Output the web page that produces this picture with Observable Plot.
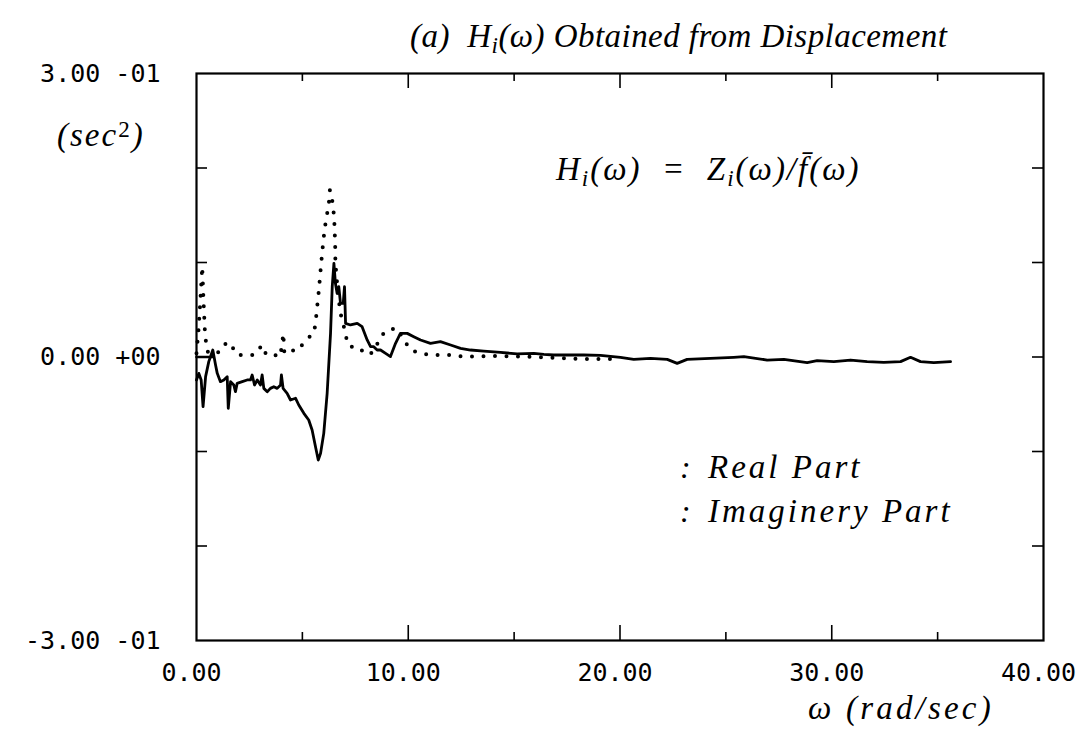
<!DOCTYPE html>
<html>
<head>
<meta charset="utf-8">
<script src="https://cdn.jsdelivr.net/npm/d3@7"></script>
<script src="https://cdn.jsdelivr.net/npm/@observablehq/plot@0.6"></script>
<style>
  html, body { margin: 0; padding: 0; background: #fff; }
  #chart { position: relative; width: 1087px; height: 744px; }
</style>
</head>
<body>
<div id="chart"></div>
<script>
// ---- Data ----
const realX = [0, 0.11, 0.22, 0.31, 0.43, 0.58, 0.77, 0.90, 0.98, 1.13, 1.29, 1.45, 1.50, 1.61, 1.76, 1.84, 1.92, 2.16, 2.39, 2.55, 2.63, 2.74, 2.87, 3.02, 3.10, 3.18, 3.34, 3.49, 3.65, 3.81, 3.97, 4.01, 4.09, 4.28, 4.44, 4.68, 4.83, 5.07, 5.30, 5.46, 5.62, 5.75, 5.86, 6.01, 6.17, 6.33, 6.41, 6.49, 6.56, 6.64, 6.72, 6.80, 6.93, 6.99, 7.04, 7.27, 7.59, 7.82, 8.06, 8.22, 8.37, 8.53, 8.69, 8.93, 9.16, 9.40, 9.63, 9.95, 10.26, 10.58, 11.05, 11.52, 12.00, 12.47, 12.94, 13.57, 14.36, 15.14, 15.93, 16.40, 16.87, 17.51, 18.29, 19.08, 20.02, 20.65, 21.44, 22.23, 22.70, 23.17, 24.27, 25.37, 25.85, 26.95, 27.74, 28.84, 29.31, 30.10, 30.89, 31.67, 32.46, 33.25, 33.72, 34.19, 34.82, 35.61];
const realY = [-0.0243, -0.0173, -0.0243, -0.0526, -0.0208, -0.0049, 0.0074, -0.0085, -0.0173, -0.0261, -0.0243, -0.0208, -0.0543, -0.0261, -0.0296, -0.0367, -0.0279, -0.0261, -0.0243, -0.0243, -0.0190, -0.0296, -0.0243, -0.0296, -0.0190, -0.0332, -0.0367, -0.0332, -0.0314, -0.0332, -0.0296, -0.0190, -0.0332, -0.0384, -0.0455, -0.0437, -0.0508, -0.0596, -0.0667, -0.0772, -0.0949, -0.1090, -0.1019, -0.0808, -0.0384, 0.0250, 0.0744, 0.0991, 0.0780, 0.0674, 0.0744, 0.0568, 0.0568, 0.0744, 0.0356, 0.0339, 0.0356, 0.0321, 0.0180, 0.0109, 0.0109, 0.0074, 0.0074, 0.0039, 0.0004, 0.0145, 0.0250, 0.0250, 0.0215, 0.0180, 0.0145, 0.0162, 0.0127, 0.0092, 0.0074, 0.0063, 0.0050, 0.0032, 0.0039, 0.0028, 0.0021, 0.0021, 0.0021, 0.0018, -0.0003, -0.0025, -0.0014, -0.0025, -0.0067, -0.0025, -0.0014, -0.0003, 0.0004, -0.0032, -0.0025, -0.0060, -0.0039, -0.0049, -0.0032, -0.0049, -0.0056, -0.0049, -0.0003, -0.0049, -0.0060, -0.0049];

// short solid lead segment along zero at the start
const leadX = [0, 0.77];
const leadY = [0, 0];

const imagX = [0.0, 0.10, 0.17, 0.22, 0.27, 0.33, 0.40, 0.50, 0.75, 1.00, 1.20, 1.45, 1.65, 1.80, 2.10, 2.40, 2.70, 3.10, 3.30, 3.70, 3.95, 4.05, 4.10, 4.15, 4.40, 4.80, 5.15, 5.54, 5.62, 5.70, 5.78, 5.86, 5.93, 6.01, 6.09, 6.17, 6.25, 6.30, 6.41, 6.49, 6.52, 6.55, 6.56, 6.64, 6.72, 6.80, 6.96, 7.04, 7.12, 7.27, 7.59, 8.06, 8.37, 8.69, 9.00, 9.48, 9.79, 10.11, 10.58, 11.05, 11.52, 12.00, 12.62, 13.10, 14.0, 15.0, 16.0, 17.0, 18.0, 20.0];
const imagY = [0.004, 0.030, 0.055, 0.075, 0.0956, 0.060, 0.025, 0.006, 0.003, 0.004, 0.012, 0.0145, 0.0145, 0.004, 0.002, 0.002, 0.002, 0.0125, 0.002, 0.002, 0.0004, 0.015, 0.025, 0.004, 0.007, 0.007, 0.018, 0.025, 0.0356, 0.0533, 0.0709, 0.092, 0.1094, 0.127, 0.1411, 0.1517, 0.1623, 0.1767, 0.1658, 0.1503, 0.1379, 0.1168, 0.0991, 0.078, 0.0603, 0.0462, 0.0321, 0.025, 0.0145, 0.0109, 0.0109, 0.0021, 0.0056, 0.0215, 0.0286, 0.0303, 0.018, 0.0074, 0.0039, 0.0021, 0.0021, 0.0021, 0.0004, 0.0004, 0.001, 0.0005, 0.0, -0.001, -0.002, -0.002];

const xTickVals = [0, 10, 20, 30, 40];
const xTickLabels = ["0.00", "10.00", "20.00", "30.00", "40.00"];
const xMajor = [10, 20, 30];
const xMinor = [5, 15, 25, 35];
const yTickVals = [-0.3, 0, 0.3];
const yTickLabels = ["-3.00 -01", "0.00 +00", "3.00 -01"];
const yInner = [-0.2, -0.1, 0, 0.1, 0.2];

// ---- Layout ----
const W = 1087, H = 744;
const mL = 196, mR = 44, mT = 73, mB = 104;
const fw = W - mL - mR, fh = H - mT - mB;
const mono = "DejaVu Sans Mono";

const plot = Plot.plot({
  width: W, height: H,
  marginLeft: mL, marginRight: mR, marginTop: mT, marginBottom: mB,
  x: {domain: [0, 40], axis: null},
  y: {domain: [-0.3, 0.3], axis: null},
  style: {background: "#fff", color: "#000"},
  marks: [
    // inward ticks
    Plot.ruleX(xMajor, {x: d => d, insetTop: fh - 15, stroke: "#000", strokeWidth: 1.6}),
    Plot.ruleX(xMinor, {x: d => d, insetTop: fh - 8, stroke: "#000", strokeWidth: 1.6}),
    Plot.ruleX(xMajor, {x: d => d, insetBottom: fh - 15, stroke: "#000", strokeWidth: 1.6}),
    Plot.ruleX(xMinor, {x: d => d, insetBottom: fh - 8, stroke: "#000", strokeWidth: 1.6}),
    Plot.ruleY(yInner, {y: d => d, insetRight: fw - 11, stroke: "#000", strokeWidth: 1.6}),
    Plot.ruleY(yInner, {y: d => d, insetLeft: fw - 11, stroke: "#000", strokeWidth: 1.6}),
    Plot.frame({stroke: "#000", strokeWidth: 2.2}),
    // curves
    Plot.line(imagX, {x: imagX, y: imagY, stroke: "#000", strokeWidth: 4, strokeDasharray: "0 11.5", strokeLinecap: "round"}),
    Plot.line(leadX, {x: leadX, y: leadY, stroke: "#000", strokeWidth: 2.6}),
    Plot.line(realX, {x: realX, y: realY, stroke: "#000", strokeWidth: 2.8, strokeLinejoin: "round"}),
    // tick labels
    Plot.text(xTickVals, {x: xTickVals, text: xTickLabels, frameAnchor: "bottom", dy: 32, dx: -5, lineAnchor: "middle", fontFamily: mono, fontSize: 25, fill: "#000"}),
    Plot.text(yTickVals, {y: yTickVals, text: yTickLabels, frameAnchor: "left", dx: -36, textAnchor: "end", lineAnchor: "middle", fontFamily: mono, fontSize: 25, fill: "#000"})
  ]
});
document.getElementById("chart").appendChild(plot);

// ---- Annotations (real text, italic serif with subscripts) ----
const svg = d3.select(plot);
const serif = "Liberation Serif";
function addText(x, y, parts, size, spacing) {
  const t = svg.append("text")
    .attr("x", x).attr("y", y)
    .attr("text-anchor", "start")
    .attr("font-family", serif).attr("font-style", "italic")
    .attr("font-size", size).attr("fill", "#000")
    .attr("letter-spacing", spacing)
    .style("white-space", "pre");
  for (const p of parts) {
    const s = t.append("tspan").text(p.t);
    if (p.sub) s.attr("baseline-shift", "-25%").attr("font-size", size * 0.7);
    if (p.sup) s.attr("baseline-shift", "40%").attr("font-size", size * 0.7);
    if (p.up) s.attr("font-style", "normal");
  }
  return t;
}
addText(410, 47, [{t: "(a)  H"}, {t: "i", sub: true}, {t: "(ω) Obtained from Displacement"}], 33, 0.45);
addText(556, 180, [{t: "H"}, {t: "i", sub: true}, {t: "(ω)  =  Z"}, {t: "i", sub: true}, {t: "(ω)/f̄(ω)"}], 33, 2);
addText(57, 146, [{t: "(sec"}, {t: "2", sup: true, up: true}, {t: ")"}], 33, 2);
addText(808, 719, [{t: "ω (rad/sec)"}], 33, 3.2);
addText(680, 478, [{t: ":"}], 32, 0);
addText(708, 478, [{t: "Real Part"}], 33, 3);
addText(680, 522, [{t: ":"}], 32, 0);
addText(708, 522, [{t: "Imaginery Part"}], 33, 3);
</script>
</body>
</html>
